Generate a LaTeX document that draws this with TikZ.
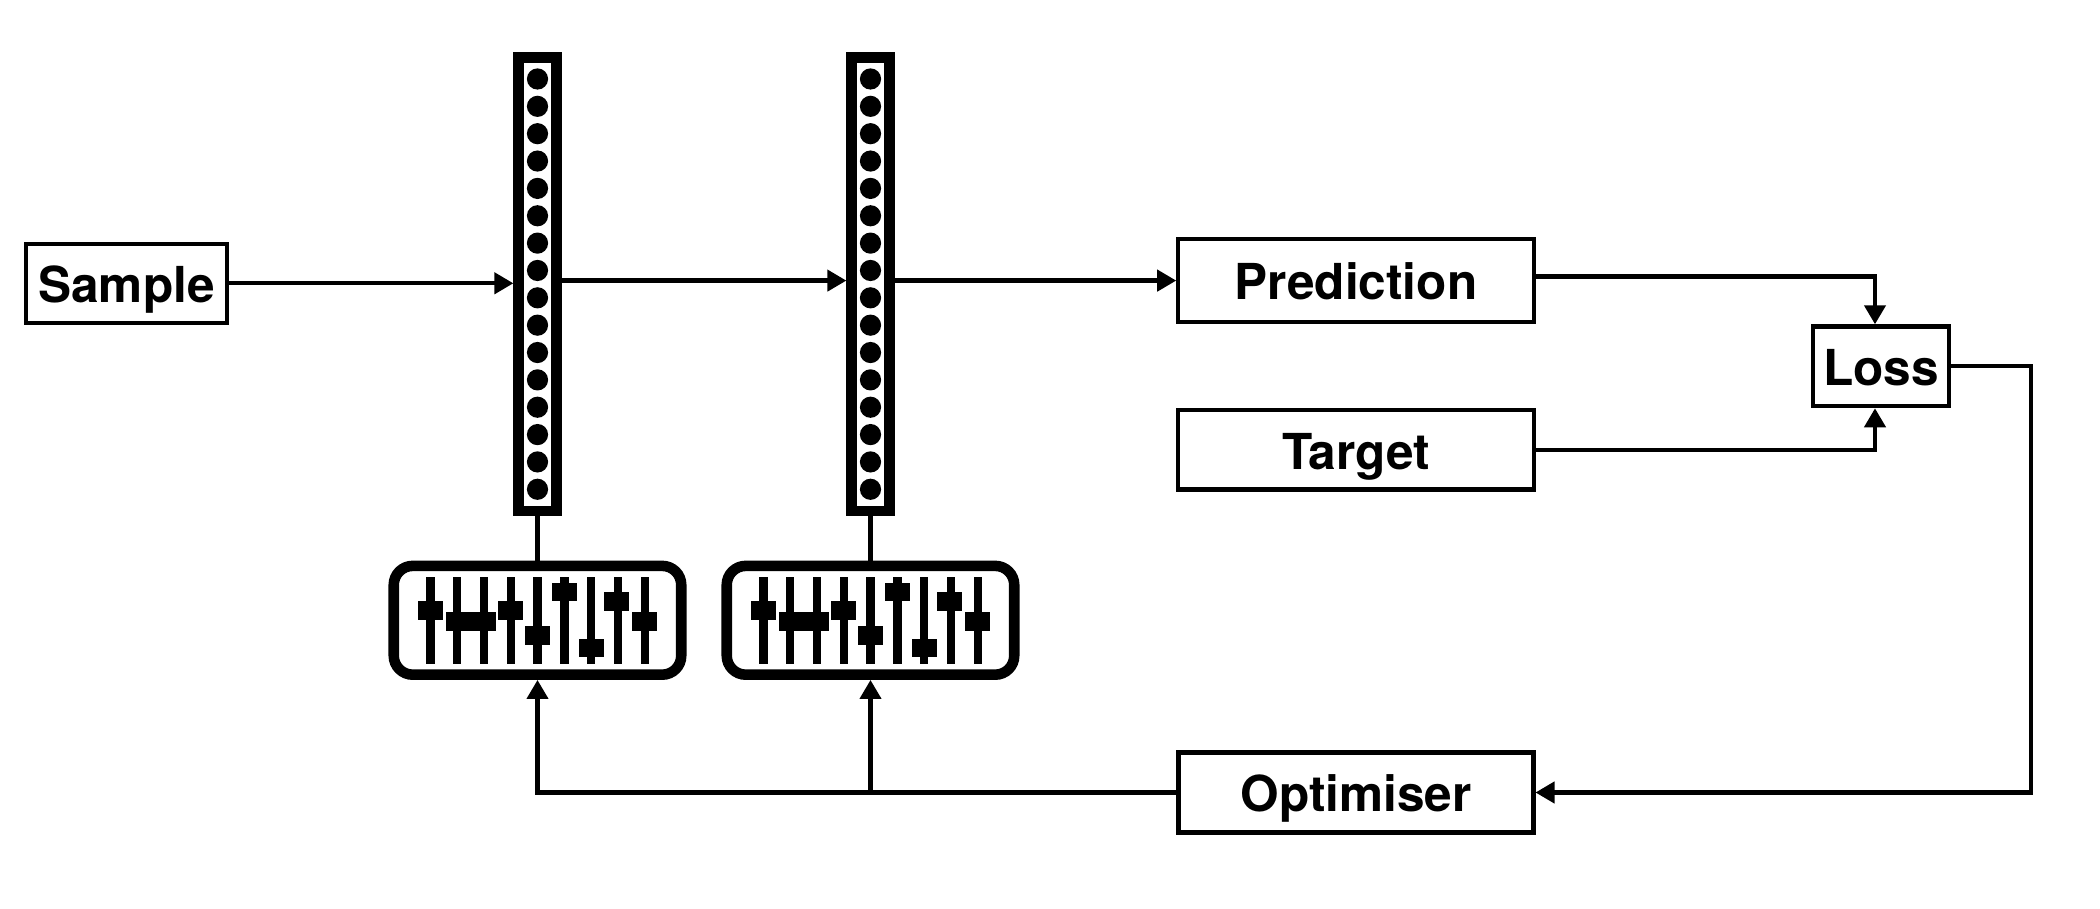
\documentclass[tikz,border=0pt]{standalone}
\usepackage{fontspec}
\setmainfont{TeX Gyre Heros}
\usetikzlibrary{calc, arrows.meta}
\tikzstyle{incolore} = [rectangle, draw=black, line width=1.2pt, inner sep=0pt, text height=11pt, text depth=0pt, font=\bfseries\fontsize{14.1pt}{16pt}\selectfont, text=black]
\tikzstyle{layerbox} = [rectangle, draw=black, line width=3pt, minimum width=0.377cm, minimum height=4.532cm, inner sep=0pt]
\tikzstyle{mixerbox} = [rectangle, rounded corners=0.19cm, draw=black, line width=3pt, minimum width=2.875cm, minimum height=1.088cm, inner sep=0pt]
\tikzstyle{link} = [line width=1.2pt, -{Triangle[length=0.19cm, width=0.21cm]}]
\begin{document}
\begin{tikzpicture}
    \useasboundingbox (0,0) rectangle (21,9.09);

    \node (sample) [incolore, minimum width=2.008cm, minimum height=0.791cm] at (1.265,6.257) {Sample};

    \foreach \n/\x in {1/5.375, 2/8.705} {
        \node (layer\n) [layerbox] at (\x,6.248) {};
        \node (mixer\n) [mixerbox] at (\x,2.887) {};
        \draw [line width=1.2pt] (layer\n.south) -- (mixer\n.north);
        \foreach \i in {0,...,15}
            \fill (\x,8.30-0.27353*\i) circle (0.106);
        % sliders of the mixer: track number / knob shift / knob height
        \foreach \i/\s/\k in {0/0/2.983, 1/0.013/2.873, 2/0/2.873, 3/0/2.983, 4/0/2.733, 5/0/3.17, 6/0.003/2.61, 7/-0.01/3.073, 8/0/2.873} {
            \fill ($(\x,0)+(-1.072+0.268*\i-0.042,2.45)$) rectangle ++(0.085,0.873);
            \fill ($(\x,0)+(-1.072+0.268*\i+\s-0.125,\k-0.094)$) rectangle ++(0.25,0.187);
        }
    }

    \node (pred)   [incolore, minimum width=3.553cm, minimum height=0.825cm] at (13.56,6.284) {Prediction};
    \node (target) [incolore, minimum width=3.553cm, minimum height=0.798cm] at (13.56,4.593) {Target};
    \node (loss)   [incolore, minimum width=1.362cm, minimum height=0.798cm] at (18.81,5.427) {Loss};
    \node (optim)  [incolore, minimum width=3.548cm, minimum height=0.802cm] at (13.56,1.165) {Optimiser};

    \coordinate (turn) at (20.31,1.165);

    \draw [link] (sample.east) -- (sample.east -| layer1.west);
    \draw [link] (layer1.east |- pred.west) -- (layer2.west |- pred.west);
    \draw [link] (layer2.east |- pred.west) -- (pred.west);

    \draw [link] ($(pred.east) + (0,0.04)$) -| ($(loss.north) + (-0.06,0)$);
    \draw [link] (target.east) -| ($(loss.south) + (-0.06,0)$);
    \draw [link] (loss.east) -| (turn) -- (optim.east);

    \draw [link] (optim.west) -| (mixer1.south);
    \draw [link] (mixer2 |- optim.west) -- (mixer2.south);

\end{tikzpicture}
\end{document}
